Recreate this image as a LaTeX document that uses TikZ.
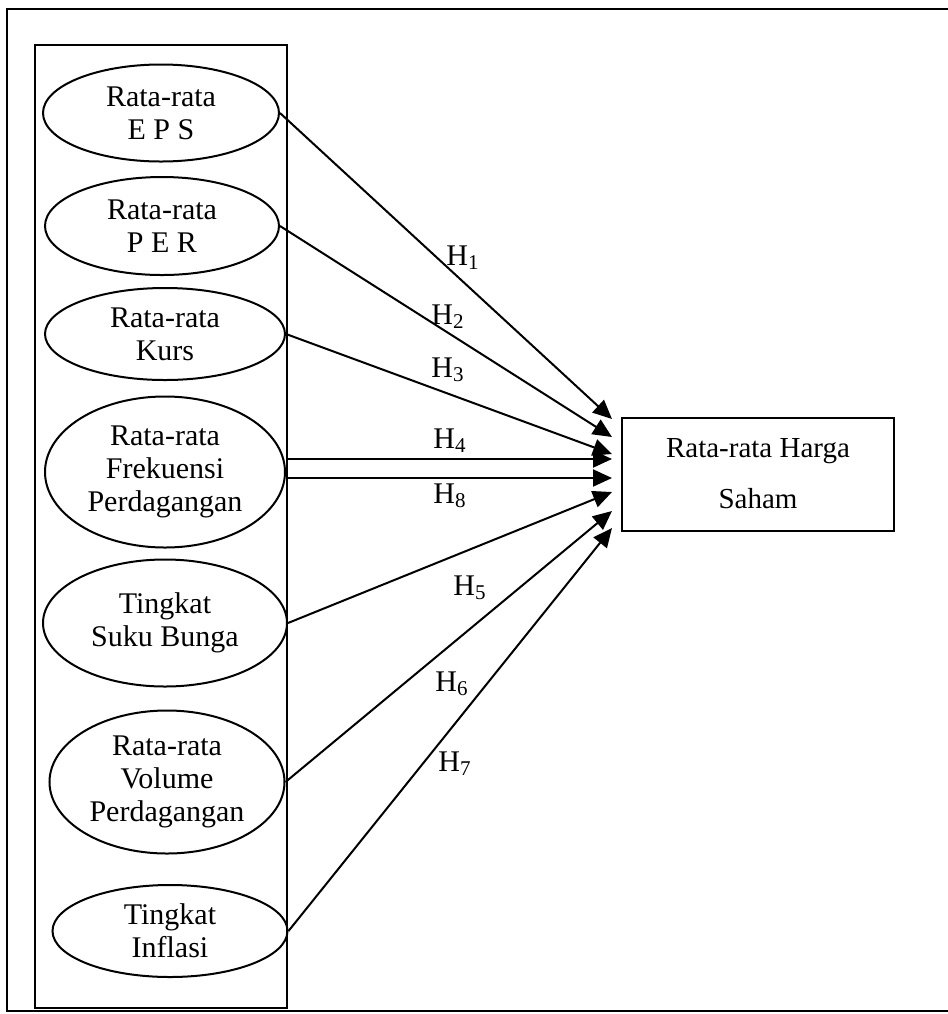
\documentclass[tikz,border=0pt]{standalone}
\usepackage{fontspec}
\setmainfont{Liberation Serif}
\usetikzlibrary{shapes.geometric,arrows.meta}
\begin{document}
\begin{tikzpicture}[x=0.5pt,y=-0.5pt,
  var/.style={ellipse, draw, line width=1pt, inner sep=0pt, align=center,
              font=\fontsize{15}{16.5}\selectfont},
  arr/.style={line width=1pt, -{Triangle[length=9.5pt,width=8.5pt]}},
  hlab/.style={font=\fontsize{15}{16}\selectfont, inner sep=1pt},
  frame/.style={line width=1.2pt}]
\useasboundingbox (0,0) rectangle (948,1014);

% outer frame (right side lies outside the picture)
\draw[frame] (948,9) -- (7,9) -- (7,1011) -- (948,1011);
% inner box round the variables
\draw[frame] (35,45) rectangle (287,1008);

% independent variables
\node[var, minimum width=118pt, minimum height=48.5pt] (e1) at (161,113) {Rata-rata\\E P S};
\node[var, minimum width=117pt, minimum height=49pt]   (e2) at (162,226) {Rata-rata\\P E R};
\node[var, minimum width=120pt, minimum height=46pt]   (e3) at (165,334) {Rata-rata\\Kurs};
\node[var, minimum width=120pt, minimum height=75.5pt] (e4) at (165,472) {Rata-rata\\Frekuensi\\Perdagangan};
\node[var, minimum width=122pt, minimum height=63.5pt] (e5) at (165,623) {Tingkat\\Suku Bunga};
\node[var, minimum width=117.5pt, minimum height=71.5pt] (e6) at (167,782) {Rata-rata\\Volume\\Perdagangan};
\node[var, minimum width=117.5pt, minimum height=46pt] (e7) at (170,931) {Tingkat\\Inflasi};

% dependent variable
\node[draw, line width=1pt, minimum width=136pt, minimum height=56.5pt, align=center,
      font=\fontsize{14.5}{25.5}\selectfont] (y) at (758,474) {Rata-rata Harga\\Saham};

% arrow tips
\coordinate (t1) at (612,419);
\coordinate (t2) at (612,437);
\coordinate (t3) at (612,454);
\coordinate (t4) at (612,459);
\coordinate (t8) at (612,478);
\coordinate (t5) at (612,492);
\coordinate (t6) at (612,511);
\coordinate (t7) at (612,528);

\draw[arr] (e1.east) -- (t1);
\draw[arr] (e2.east) -- (t2);
\draw[arr] (e3.east) -- (t3);
\draw[arr] (e4.east |- t4) -- (t4);
\draw[arr] (e4.east |- t8) -- (t8);
\draw[arr] (e5.east) -- (t5);
\draw[arr] (e6.east) -- (t6);
\draw[arr] (e7.east) -- (t7);

% hypothesis labels
\node[hlab] (h1) at (463,258) {H\textsubscript{1}};
\node[hlab] (h2) at (448,317) {H\textsubscript{2}};
\node[hlab] (h3) at (448,370) {H\textsubscript{3}};
\node[hlab] (h4) at (450,441) {H\textsubscript{4}};
\node[hlab] (h8) at (450,496) {H\textsubscript{8}};
\node[hlab] (h5) at (470,588) {H\textsubscript{5}};
\node[hlab] (h6) at (452,684) {H\textsubscript{6}};
\node[hlab] (h7) at (455,764) {H\textsubscript{7}};
\end{tikzpicture}
\end{document}
